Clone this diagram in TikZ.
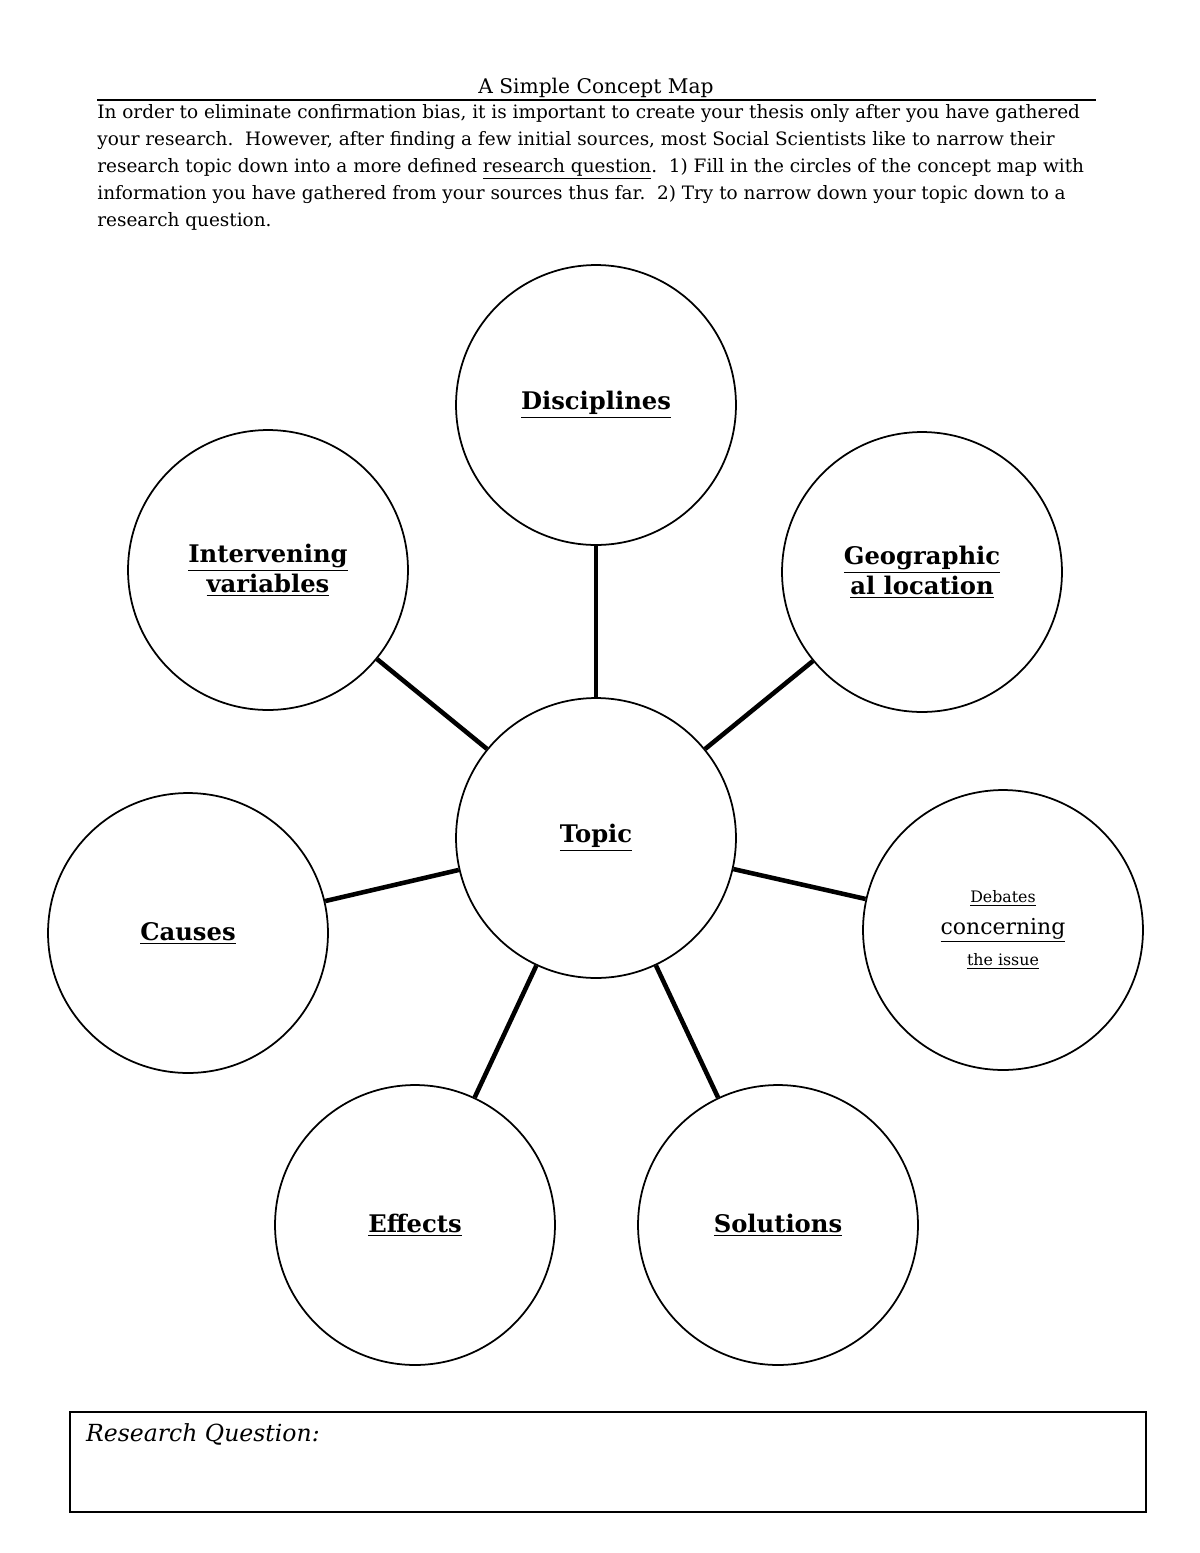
\documentclass[tikz,border=0pt]{standalone}
\usepackage{fontspec}
\setmainfont{DejaVu Serif}
\usetikzlibrary{positioning}

\begin{document}
\begin{tikzpicture}[x=0.02cm,y=-0.02cm,
    bubble/.style={circle,draw,line width=1pt,minimum size=5.6cm,align=center,font=\fontsize{13.8}{17}\selectfont\bfseries},
    spoke/.style={line width=2.6pt}]
  \useasboundingbox (0,0) rectangle (1200,1553);

  % heading and instructions
  \node[anchor=base] (title) at (596,93) {\fontsize{11.5}{14}\selectfont A Simple Concept Map};
  \draw[line width=1pt] (97,100) -- (1096,100);
  \node[anchor=north west,align=left,inner sep=0pt,font=\fontsize{10.5}{15.4}\selectfont] (intro) at (97,104)
    {In order to eliminate confirmation bias, it is important to create your thesis only after you have gathered\\
     your research.\ \ However, after finding a few initial sources, most Social Scientists like to narrow their\\
     research topic down into a more defined \underline{research question}.\ \ 1) Fill in the circles of the concept map with\\
     information you have gathered from your sources thus far.\ \ 2) Try to narrow down your topic down to a\\
     research question.};

  % the map
  \node[bubble] (topic)  at (596,838)  {\underline{Topic}};
  \node[bubble] (disc)   at (596,405)  {\underline{Disciplines}};
  \node[bubble] (interv) at (268,570)  {\underline{Intervening}\\\underline{variables}};
  \node[bubble] (geo)    at (922,572)  {\underline{Geographic}\\\underline{al location}};
  \node[bubble] (causes) at (188,933)  {\underline{Causes}};
  \node[bubble,font=\fontsize{12.5}{18}\selectfont] (debate) at (1003,930)
    {{\small\underline{Debates}}\\\underline{concerning}\\{\small\underline{the issue}}};
  \node[bubble] (effects) at (415,1225) {\underline{Effects}};
  \node[bubble] (sol)    at (778,1225) {\underline{Solutions}};

  \foreach \leaf in {disc,interv,geo,causes,debate,effects,sol}
    \draw[spoke] (topic) -- (\leaf);

  % answer box
  \draw[line width=1pt] (70,1412) rectangle (1146,1512);
  \node[anchor=west,font=\fontsize{13.4}{16}\selectfont\itshape] (rq) at (80,1434) {Research Question:};
\end{tikzpicture}
\end{document}
